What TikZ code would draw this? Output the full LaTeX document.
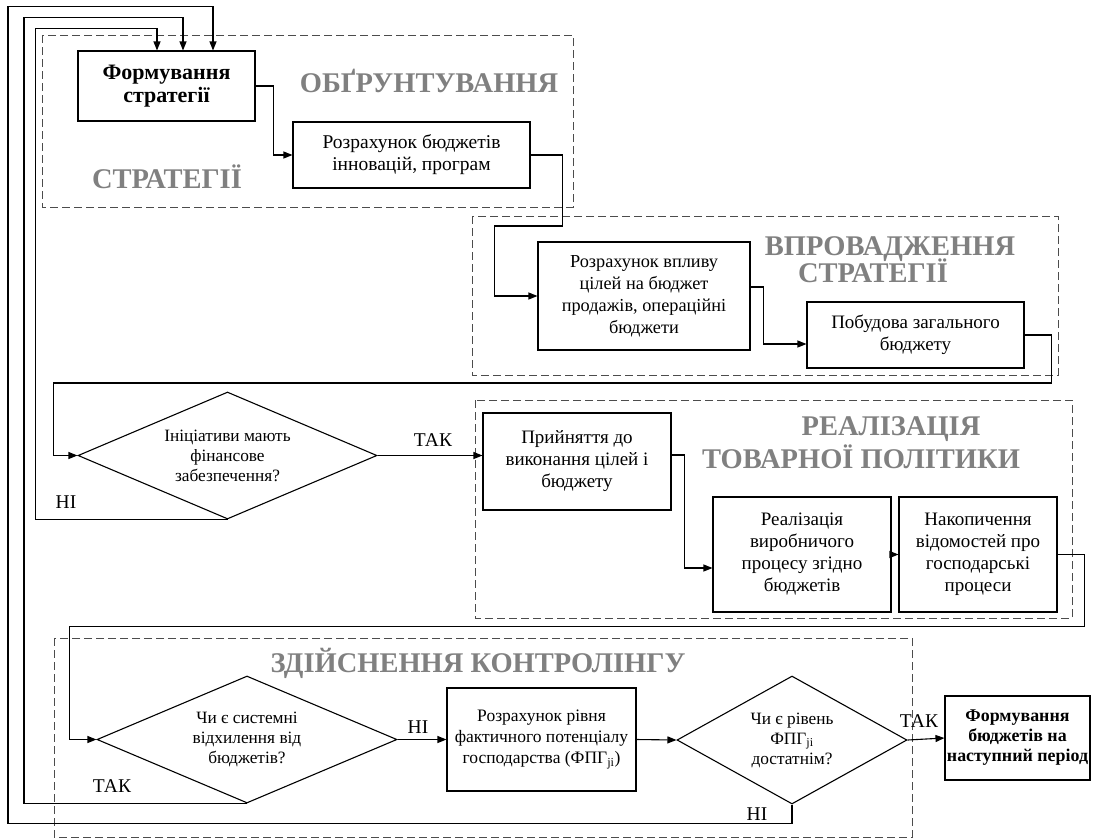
\documentclass[tikz,border=0pt]{standalone}
\usepackage{fontspec}
\setmainfont{Liberation Serif}
\usetikzlibrary{arrows.meta,shapes.geometric}

\begin{document}
\begin{tikzpicture}[x=1pt,y=-1pt,
    blok/.style={draw,line width=1.1pt,align=center,inner sep=0pt,font=\fontsize{19}{22}\selectfont},
    romb/.style={draw,shape=diamond,line width=1.1pt,align=center,inner sep=0pt,font=\fontsize{17.3}{20}\selectfont},
    etap/.style={draw=black!70,line width=1pt,dash pattern=on 8pt off 4pt},
    nazva/.style={anchor=base,text=black!50,font=\fontsize{28.5}{31}\selectfont\bfseries},
    mitka/.style={anchor=base,font=\fontsize{19.5}{22}\selectfont},
    zv/.style={line width=1.1pt,-{Triangle[length=9pt,width=7pt]}}]

    \useasboundingbox (0,0) rectangle (1094,839);

    % Етапи
    \draw[etap] (42,35) rectangle (573,207);
    \draw[etap] (472,216) rectangle (1058,375);
    \draw[etap] (475,400) rectangle (1072,618);
    \draw[etap] (54,638) rectangle (912,837);

    \node[nazva] (t1) at (429,92) {ОБҐРУНТУВАННЯ};
    \node[nazva] (t2) at (167,188) {СТРАТЕГІЇ};
    \node[nazva] (t3) at (890,255) {ВПРОВАДЖЕННЯ};
    \node[nazva] (t4) at (873,282) {СТРАТЕГІЇ};
    \node[nazva] (t5) at (891,435) {РЕАЛІЗАЦІЯ};
    \node[nazva] (t6) at (861,468) {ТОВАРНОЇ ПОЛІТИКИ};
    \node[nazva] (t7) at (478,672) {ЗДІЙСНЕННЯ КОНТРОЛІНГУ};

    % Блоки
    \node[blok,minimum width=177pt,minimum height=70pt,font=\fontsize{22}{23.5}\selectfont\bfseries] (form) at (166.5,86) {Формування\\стратегії};
    \node[blok,minimum width=237pt,minimum height=66pt,font=\fontsize{19.5}{22}\selectfont] (rozr) at (411.5,155) {Розрахунок бюджетів\\інновацій, програм};
    \node[blok,minimum width=212pt,minimum height=108pt,font=\fontsize{18.3}{22}\selectfont] (vplyv) at (644,296) {Розрахунок впливу\\цілей на бюджет\\продажів, операційні\\бюджети};
    \node[blok,minimum width=217pt,minimum height=66pt] (pobud) at (915.5,335) {Побудова загального\\бюджету};
    \node[romb,minimum width=299pt,minimum height=127pt,aspect=2.36] (fin) at (227.5,455.5) {Ініціативи мають\\фінансове\\забезпечення?};
    \node[blok,minimum width=188pt,minimum height=97pt] (pryin) at (577,461.5) {Прийняття до\\виконання цілей і\\бюджету};
    \node[blok,minimum width=178pt,minimum height=115pt] (real) at (802,554.5) {Реалізація\\виробничого\\процесу згідно\\бюджетів};
    \node[blok,minimum width=158pt,minimum height=115pt] (nakop) at (978,554.5) {Накопичення\\відомостей про\\господарські\\процеси};
    \node[romb,minimum width=300pt,minimum height=127pt,aspect=2.36] (vidh) at (247,739.5) {Чи є системні\\відхилення від\\бюджетів?};
    \node[blok,minimum width=189pt,minimum height=103pt,font=\fontsize{17.5}{21}\selectfont] (fpg) at (541.5,739.5) {Розрахунок рівня\\фактичного потенціалу\\господарства (ФПГ\textsubscript{ji})};
    \node[romb,minimum width=230pt,minimum height=128pt,aspect=1.8] (dost) at (792,740) {Чи є рівень\\ФПГ\textsubscript{ji}\\достатнім?};
    \node[blok,minimum width=145pt,minimum height=84pt,font=\fontsize{17.9}{20}\selectfont\bfseries] (nast) at (1017.5,738) {Формування\\бюджетів на\\наступний період};

    % Зв'язки
    \draw[zv] (form.east) -- ++(18,0) |- (rozr.west);
    \draw[zv] (rozr.east) -- ++(32,0) -- ++(0,71) -- ++(-68,0) |- (vplyv.west);
    \draw[zv] ([yshift=9pt]vplyv.east) -- ++(13,0) |- ([yshift=-9pt]pobud.west);
    \draw[zv] (pobud.east) -- ++(27,0) -- ++(0,48) -- ++(-998,0) |- (fin.west);
    \draw[zv] (fin.east) -- (fin.east -| pryin.west);
    \draw[zv] ([yshift=6.5pt]pryin.east) -- ++(13,0) |- ([yshift=-13.5pt]real.west);
    \draw[zv] (real.east) -- (nakop.west);
    \draw[zv] (nakop.east) -- ++(27,0) -- ++(0,72) -- ++(-1015,0) |- (vidh.west);
    \draw[zv] (vidh.east) -- (fpg.west);
    \draw[zv] (fpg.east) -- (dost.west);
    \draw[zv] (dost.east) -- (nast.west);

    % Зворотні зв'язки
    \draw[zv] (fin.south) -- ++(-192,0) -- ++(0,-491.5) -| ([xshift=-9.5pt]form.north);
    \draw[zv] (vidh.south) -- ++(-223,0) -- ++(0,-786.5) -| ([xshift=16.5pt]form.north);
    \draw[zv] (dost.south) -- ++(0,19) -- ++(-784,0) -- ++(0,-817) -| ([xshift=46.5pt]form.north);

    % Мітки
    \node[mitka] (tak1) at (433,446) {ТАК};
    \node[mitka] (ni1) at (66,508) {НІ};
    \node[mitka] (tak2) at (112,792) {ТАК};
    \node[mitka] (ni2) at (418,733) {НІ};
    \node[mitka] (tak3) at (919,727) {ТАК};
    \node[mitka] (ni3) at (757,820) {НІ};
\end{tikzpicture}
\end{document}
